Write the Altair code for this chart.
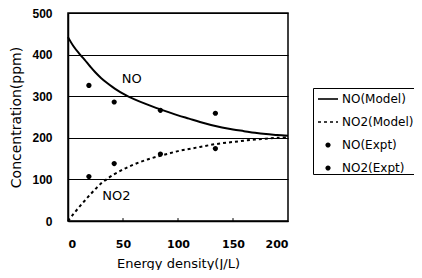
import altair as alt
import pandas as pd

# Model curves
x_no_model = [0, 5, 10, 15, 20, 25, 30, 35, 40, 45, 50, 55, 60, 70, 80, 90, 100, 110, 120, 130, 140, 150, 160, 170, 180, 190, 200]
no_model = [442, 420, 403, 388, 372, 357, 344, 333, 323, 314, 306, 299, 293, 282, 272, 263, 254, 246, 238, 231, 225, 220, 216, 212, 209, 207, 205]
x_no2_model = [0, 5, 10, 15, 20, 25, 30, 35, 40, 50, 60, 70, 80, 90, 100, 110, 120, 130, 140, 150, 160, 170, 180, 190, 200]
no2_model = [0, 17, 33, 48, 63, 77, 90, 100, 109, 124, 136, 146, 154, 161, 168, 173, 178, 183, 187, 190, 193, 196, 198, 200, 201]

# Experimental points
x_expt = [19, 42, 84, 134]
no_expt = [326, 286, 266, 259]
no2_expt = [107, 138, 161, 174]

legend_names = ["NO(Model)", "NO2(Model)", "NO(Expt)", "NO2(Expt)"]
x_tick_values = [0, 50, 100, 150, 200]
y_tick_values = [0, 100, 200, 300, 400, 500]
inner_ticks = [50, 100, 150]

curve_labels = ["NO", "NO2"]
curve_label_x = [58, 44]
curve_label_y = [342, 60]

df_no = pd.DataFrame({"x": x_no_model, "y": no_model})
df_no2 = pd.DataFrame({"x": x_no2_model, "y": no2_model})
df_pts = pd.DataFrame({
    "x": x_expt + x_expt,
    "y": no_expt + no2_expt,
    "series": ["NO(Expt)"] * len(x_expt) + ["NO2(Expt)"] * len(x_expt),
})
df_ticks = pd.DataFrame({"x": inner_ticks, "y0": [0] * 3, "y1": [7] * 3})
df_lab = pd.DataFrame({"t": curve_labels, "x": curve_label_x, "y": curve_label_y})

xs = alt.Scale(domain=[0, 200], nice=False)
ys = alt.Scale(domain=[0, 500], nice=False)

x_axis = alt.Axis(values=x_tick_values, grid=False, ticks=False, labelPadding=17,
                  labelFont="DejaVu Sans", labelFontWeight="bold", labelFontSize=11,
                  labelColor="black", domainColor="black", domainWidth=1.5,
                  title="Energy density(J/L)", titleFont="DejaVu Sans", titleFontSize=13,
                  titleFontWeight="normal", titleColor="black", titleY=46, titleBaseline="alphabetic")
y_axis = alt.Axis(values=y_tick_values, grid=True, gridColor="black", gridWidth=1, gridOpacity=1,
                  ticks=False, labelPadding=16, labelFont="Liberation Sans", labelFontWeight="bold",
                  labelFontSize=12, labelColor="black", domainColor="black", domainWidth=1.5,
                  title="Concentration(ppm)", titleFont="DejaVu Sans", titleFontSize=14,
                  titleFontWeight="normal", titleColor="black", titleX=-48, titleY=104,
                  titleAngle=270, titleBaseline="alphabetic", titleAlign="center")

# legend glyphs as filled paths: solid bar, dashed bars, dots
shape_range = [
    "M-1,-0.08H1V0.08H-1Z",
    "M-1,-0.07H-0.7V0.07H-1ZM-0.4,-0.07H-0.1V0.07H-0.4ZM0.2,-0.07H0.5V0.07H0.2ZM0.8,-0.07H1V0.07H0.8Z",
    "M-0.26,0A0.26,0.26 0 1,1 0.26,0A0.26,0.26 0 1,1 -0.26,0Z",
    "M-0.26,0A0.26,0.26 0 1,1 0.26,0A0.26,0.26 0 1,1 -0.26,0Z",
]

line_no = alt.Chart(df_no).mark_line(color="black", strokeWidth=2, interpolate="catmull-rom").encode(
    x=alt.X("x:Q", scale=xs, axis=x_axis), y=alt.Y("y:Q", scale=ys, axis=y_axis))
line_no2 = alt.Chart(df_no2).mark_line(color="black", strokeWidth=2, strokeDash=[3, 3], interpolate="catmull-rom").encode(
    x=alt.X("x:Q", scale=xs), y=alt.Y("y:Q", scale=ys))
pts = alt.Chart(df_pts).mark_point(filled=True, size=400, color="black", opacity=1).encode(
    x=alt.X("x:Q", scale=xs), y=alt.Y("y:Q", scale=ys),
    shape=alt.Shape("series:N", scale=alt.Scale(domain=legend_names, range=shape_range),
                    legend=alt.Legend(title=None, orient="none", legendX=245, legendY=75,
                                      strokeColor="black", padding=0, symbolSize=400,
                                      symbolOffset=4, labelFont="DejaVu Sans",
                                      labelFontSize=12, labelColor="black", labelOffset=3,
                                      rowPadding=6)))
ticks = alt.Chart(df_ticks).mark_rule(color="black", strokeWidth=1).encode(
    x=alt.X("x:Q", scale=xs), y=alt.Y("y0:Q", scale=ys), y2="y1:Q")
labels = alt.Chart(df_lab).mark_text(font="DejaVu Sans", fontSize=13, color="black").encode(
    x=alt.X("x:Q", scale=xs), y=alt.Y("y:Q", scale=ys), text="t:N")

chart = alt.layer(line_no, line_no2, pts, ticks, labels).properties(
    width=220, height=208,
    autosize=alt.AutoSizeParams(type="none"),
    padding={"left": 60, "top": 5, "right": 126, "bottom": 49},
).configure_view(stroke="black", strokeWidth=1.5)

chart.save("out.html", embed_options={"renderer": "svg", "actions": False})
